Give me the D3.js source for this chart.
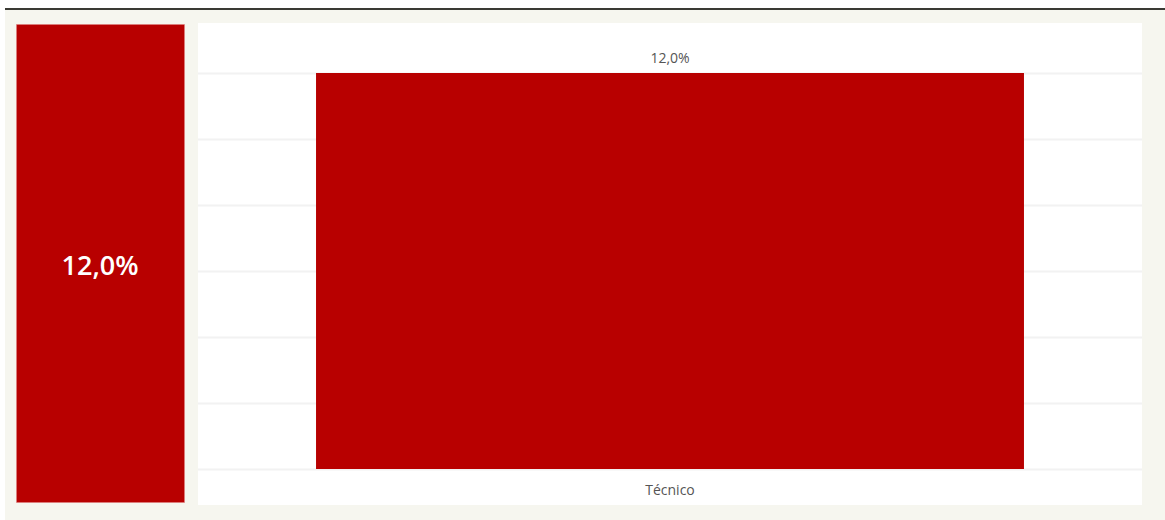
<!DOCTYPE html>
<html><head><meta charset="utf-8">
<script src="https://cdn.jsdelivr.net/npm/d3@7"></script>
<style>
html,body{margin:0;padding:0;background:#fff;}
svg{display:block;}
</style></head>
<body>
<svg id="c" width="1165" height="520"></svg>
<script>
const categories = ["Técnico"];
const values = [12.0];
const kpiValue = 12.0;
const yTicks = [0, 2, 4, 6, 8, 10, 12];

const fmt = v => d3.format(".1f")(v).replace(".", ",") + "%";
const svg = d3.select("#c");
const font = "'Open Sans', 'Segoe UI', sans-serif";

// background
svg.append("rect").attr("x",0).attr("y",0).attr("width",1165).attr("height",520).attr("fill","#fff");
svg.append("rect").attr("x",5).attr("y",10).attr("width",1160).attr("height",510).attr("fill","#f6f6ef");
svg.append("rect").attr("x",5).attr("y",8).attr("width",1160).attr("height",2).attr("fill","#3a3a34");

// KPI card
svg.append("rect").attr("x",16.5).attr("y",24.5).attr("width",168).attr("height",478)
  .attr("fill","#b80000").attr("stroke","#e08080").attr("stroke-width",1).attr("stroke-dasharray","1,1");
svg.append("text").attr("x",100).attr("y",268).attr("text-anchor","middle").attr("dominant-baseline","middle")
  .attr("font-family",font).attr("font-size",27).attr("font-weight",600).attr("fill","#fff").text(fmt(kpiValue));

// chart panel
const panel = {x:198, y:23, w:944, h:482};
svg.append("rect").attr("x",panel.x).attr("y",panel.y).attr("width",panel.w).attr("height",panel.h).attr("fill","#fff");

const x = d3.scaleBand().domain(categories).range([panel.x, panel.x+panel.w]).paddingInner(0.1429).paddingOuter(0.1429);
const y = d3.scaleLinear().domain([0, 12]).range([469, 73]);

// gridlines
svg.append("g").selectAll("line").data(yTicks).join("line")
  .attr("x1",panel.x).attr("x2",panel.x+panel.w)
  .attr("y1",d=>y(d)+0.5).attr("y2",d=>y(d)+0.5)
  .attr("stroke","#f2f2f2").attr("stroke-width",2);

// bars
svg.append("g").selectAll("rect").data(values).join("rect")
  .attr("x",(d,i)=>x(categories[i])).attr("width",x.bandwidth())
  .attr("y",d=>y(d)).attr("height",d=>y(0)-y(d)).attr("fill","#b80000");

// value labels
svg.append("g").selectAll("text").data(values).join("text")
  .attr("x",(d,i)=>x(categories[i])+x.bandwidth()/2).attr("y",d=>y(d)-10)
  .attr("text-anchor","middle").attr("font-family",font).attr("font-size",14).attr("fill","#555")
  .text(d=>fmt(d));

// x axis
const xAxis = d3.axisBottom(x).tickSize(0).tickPadding(16);
const gx = svg.append("g").attr("transform",`translate(0,${y(0)})`).call(xAxis);
gx.select(".domain").remove();
gx.selectAll("text").attr("font-family",font).attr("font-size",14).attr("fill","#555");
</script>
</body></html>
